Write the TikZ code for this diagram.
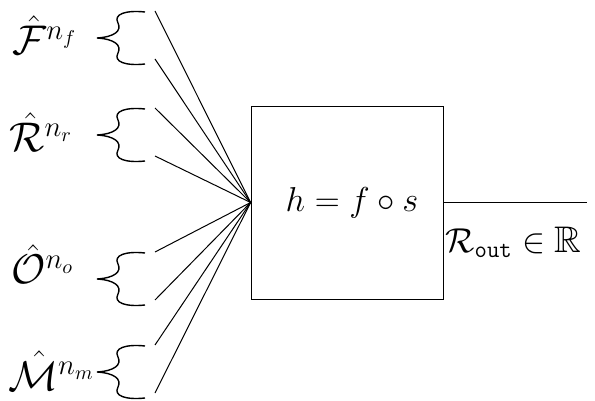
\documentclass[tikz,border=0pt]{standalone}
\usepackage{amsmath,amssymb}
\usepackage{tikz}
\usetikzlibrary{positioning}

\begin{document}
\begin{tikzpicture}[
    x=0.5pt, y=-0.5pt,
    lab/.style={anchor=base west, inner sep=0pt, font=\fontsize{19.5}{23}\selectfont},
    funcbox/.style={rectangle, draw=black, fill=white, inner sep=0pt,
                    minimum width=96pt, minimum height=96.5pt, font=\fontsize{19}{23}\selectfont},
    wire/.style={black, line width=0.5pt},
    curly/.style={black, line width=0.7pt},
]
\useasboundingbox (0,0) rectangle (595,401);

% inputs
\node[lab] (feat) at (12,55) {$\hat{\mathcal{F}}^{n_f}$};
\node[lab] (rel) at (9,152) {$\hat{\mathcal{R}}^{n_r}$};
\node[lab] (obj) at (11,284) {$\hat{\mathcal{O}}^{n_o}$};
\node[lab] (meta) at (8,390) {$\hat{\mathcal{M}}^{n_m}$};

% the function box
\node[funcbox] (hbox) at (347,202.5) {\hspace{5pt}$h = f \circ s$};
\coordinate (outend) at (587,202.5);
\node[lab, font=\fontsize{18.5}{22}\selectfont] (rout) at (445,252) {$\mathcal{R}_{\mathtt{out}} \in \mathbb{R}$};

% wavy braces and their wires
\foreach \yc/\nm in {38/f, 135/r, 279/o, 372/m} {
  \draw[curly] (145,\yc-26) .. controls (126,\yc-28) and (113,\yc-24) .. (118,\yc-15)
        .. controls (122,\yc-7) and (114,\yc-1) .. (97,\yc)
        .. controls (114,\yc+1) and (122,\yc+7) .. (118,\yc+15)
        .. controls (113,\yc+24) and (126,\yc+28) .. (145,\yc+26);
  \coordinate (\nm top) at (155,\yc-27);
  \coordinate (\nm bot) at (155,\yc+21);
  \draw[wire] (\nm top) -- (hbox.west);
  \draw[wire] (\nm bot) -- (hbox.west);
}

\draw[wire] (hbox.east) -- (outend);
\end{tikzpicture}
\end{document}
